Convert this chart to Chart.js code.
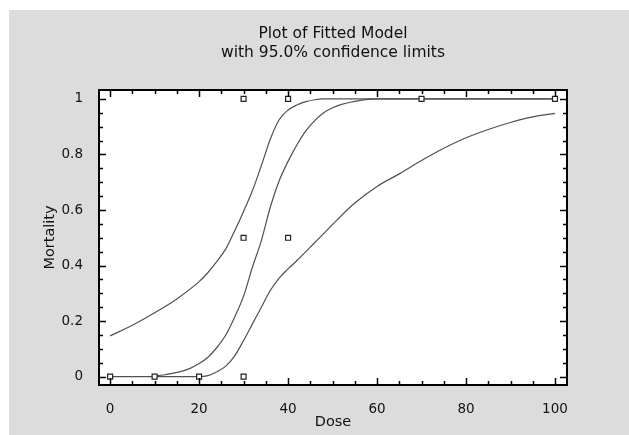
<!DOCTYPE html>
<html>
<head>
<meta charset="utf-8">
<script src="https://cdn.jsdelivr.net/npm/chart.js@4.4.1/dist/chart.umd.min.js"></script>
<style>
  body { margin: 0; background: #fff; }
  #wrap { position: absolute; left: 9px; top: 10px; width: 620px; height: 425px; background: #dcdcdc; }
</style>
</head>
<body>
<div id="wrap"><canvas id="fit" width="620" height="425"></canvas></div>
<script>
// observed data
const obsDose = [0, 10, 20, 30, 30, 30, 40, 40, 70, 100];
const obsMortality = [0, 0, 0, 0, 0.5, 1, 0.5, 1, 1, 1];

// fitted model
const fitDose = [10, 12, 14, 16, 18, 20, 22, 24, 26, 28, 30, 32, 34, 36, 38, 40, 42, 44, 46, 48, 50, 52, 54, 56, 58, 60, 70, 80, 90, 100];
const fitMortality = [0.003, 0.006, 0.012, 0.019, 0.030, 0.047, 0.070, 0.105, 0.150, 0.215, 0.290, 0.395, 0.490, 0.610, 0.705, 0.775, 0.835, 0.885, 0.922, 0.950, 0.968, 0.980, 0.988, 0.994, 0.998, 1, 1, 1, 1, 1];

// upper 95% limit
const upperDose = [0, 5, 10, 15, 20, 22, 24, 26, 28, 30, 32, 34, 36, 38, 40, 42, 44, 46, 48, 60, 80, 100];
const upperMortality = [0.147, 0.185, 0.230, 0.280, 0.342, 0.375, 0.415, 0.460, 0.525, 0.595, 0.670, 0.760, 0.855, 0.925, 0.960, 0.978, 0.990, 0.997, 1, 1, 1, 1];

// lower 95% limit
const lowerDose = [0, 5, 10, 15, 20, 22, 24, 26, 28, 30, 32, 34, 36, 38, 40, 42, 44, 46, 48, 50, 55, 60, 65, 70, 75, 80, 85, 90, 95, 100];
const lowerMortality = [0, 0, 0, 0, 0, 0.004, 0.018, 0.038, 0.075, 0.130, 0.190, 0.250, 0.310, 0.355, 0.388, 0.418, 0.450, 0.483, 0.515, 0.548, 0.625, 0.685, 0.730, 0.778, 0.822, 0.860, 0.890, 0.915, 0.935, 0.948];

const xTicks = [0, 20, 40, 60, 80, 100];
const xTickLabels = ['0', '20', '40', '60', '80', '100'];
const yTicks = [0, 0.2, 0.4, 0.6, 0.8, 1];
const yTickLabels = ['0', '0.2', '0.4', '0.6', '0.8', '1'];

const toPoints = (xs, ys) => xs.map((x, i) => ({ x: x, y: ys[i] }));

const lineStyle = {
  showLine: true,
  pointRadius: 0,
  borderColor: '#505050',
  borderWidth: 1.2,
  cubicInterpolationMode: 'monotone',
  order: 1
};

// white plot area, then frame with inward tick marks like the original
const frameTicks = {
  id: 'frameTicks',
  beforeDatasetsDraw(chart) {
    const { ctx, chartArea: a } = chart;
    ctx.save();
    ctx.fillStyle = '#fff';
    ctx.fillRect(a.left, a.top, a.right - a.left, a.bottom - a.top);
    ctx.restore();
  },
  afterDraw(chart) {
    const { ctx, chartArea: a, scales: { x, y } } = chart;
    ctx.save();
    ctx.strokeStyle = '#000';
    ctx.lineWidth = 1.5;
    ctx.beginPath();
    for (let i = 0; i <= 20; i++) {
      const px = Math.round(x.getPixelForValue(i * 5)) + 0.5;
      const len = i % 4 === 0 ? 7 : 4;
      ctx.moveTo(px, a.bottom); ctx.lineTo(px, a.bottom - len);
      ctx.moveTo(px, a.top); ctx.lineTo(px, a.top + len);
    }
    for (let i = 0; i <= 20; i++) {
      const py = Math.round(y.getPixelForValue(i * 0.05)) + 0.5;
      const len = i % 4 === 0 ? 7 : 4;
      ctx.moveTo(a.left, py); ctx.lineTo(a.left + len, py);
      ctx.moveTo(a.right, py); ctx.lineTo(a.right - len, py);
    }
    ctx.stroke();
    ctx.lineWidth = 2;
    ctx.strokeRect(a.left, a.top, a.right - a.left, a.bottom - a.top);
    ctx.restore();
  }
};

const font = 'DejaVu Sans';
const textColor = '#111';

new Chart(document.getElementById('fit'), {
  type: 'scatter',
  data: {
    datasets: [
      {
        label: 'Observed',
        data: toPoints(obsDose, obsMortality),
        pointStyle: 'rect',
        pointRadius: 3.5,
        pointBorderWidth: 1.2,
        pointBorderColor: '#222',
        pointBackgroundColor: '#fff',
        order: 0
      },
      Object.assign({ label: 'Fitted', data: toPoints(fitDose, fitMortality) }, lineStyle),
      Object.assign({ label: 'Upper', data: toPoints(upperDose, upperMortality) }, lineStyle),
      Object.assign({ label: 'Lower', data: toPoints(lowerDose, lowerMortality) }, lineStyle)
    ]
  },
  options: {
    responsive: false,
    animation: false,
    devicePixelRatio: 1,
    layout: { padding: { left: 0, right: 62, top: 0, bottom: 0 } },
    plugins: {
      legend: { display: false },
      tooltip: { enabled: false },
      title: {
        display: true,
        fullSize: false,
        text: ['Plot of Fitted Model', 'with 95.0% confidence limits'],
        color: textColor,
        font: { family: font, size: 15.5, weight: 'normal', lineHeight: '19px' },
        padding: { top: 14, bottom: 28 }
      }
    },
    scales: {
      x: {
        type: 'linear',
        min: -2.5,
        max: 102.7,
        grid: { display: false },
        border: { display: false },
        afterBuildTicks: s => { s.ticks = xTicks.map(v => ({ value: v })); },
        afterFit: s => { s.height = 50; },
        ticks: {
          color: textColor,
          padding: 8,
          font: { family: font, size: 13.5 },
          callback: (v, i) => xTickLabels[i]
        },
        title: {
          display: true,
          text: 'Dose',
          color: textColor,
          font: { family: font, size: 14.5 },
          padding: { top: 0, bottom: 4 }
        }
      },
      y: {
        type: 'linear',
        min: -0.03,
        max: 1.032,
        grid: { display: false },
        border: { display: false },
        afterBuildTicks: s => { s.ticks = yTicks.map(v => ({ value: v })); },
        afterFit: s => { s.width = 90; },
        ticks: {
          color: textColor,
          padding: 8,
          font: { family: font, size: 13.5 },
          callback: (v, i) => yTickLabels[i]
        },
        title: {
          display: true,
          text: 'Mortality',
          color: textColor,
          font: { family: font, size: 14.5 },
          padding: { top: 33, bottom: 0 }
        }
      }
    }
  },
  plugins: [frameTicks]
});
</script>
</body>
</html>
